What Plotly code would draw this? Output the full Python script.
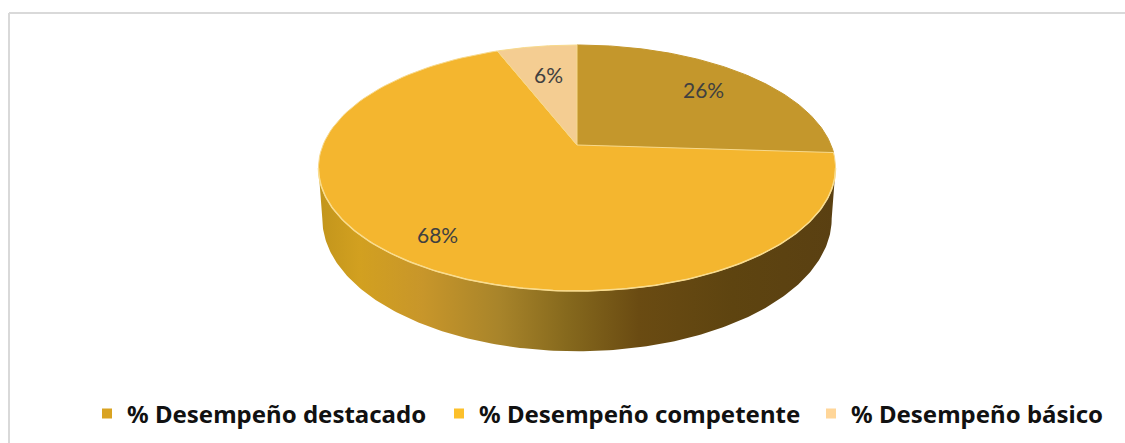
import numpy as np
import plotly.graph_objects as go

# chart values
categories = ['% Desempeño destacado', '% Desempeño competente', '% Desempeño básico']
values = [26, 68, 6]
slice_colors = ['#c4972c', '#f4b62f', '#f4cd92']
legend_colors = ['#d9a322', '#fcc02b', '#ffd699']
label_radius = [0.75, 0.82, 0.68]

# tilted disc, drawn in pixel space of the 1125x443 window
cx, cy = 577, 145
radius = 254
persp = 0.187
tilt = 118.7
depth = 49


def project(angle, r=1.0, drop=0.0, shrink=1.0):
    # angle in radians, clockwise from the back of the disc
    u = r * np.sin(angle)
    v = r * np.cos(angle)
    w = 1 + persp * v
    x = cx + shrink * radius * u / w
    y = cy - tilt * v / w + drop / w
    return x, y


fig = go.Figure()

# side wall with the left to right shading
edge = np.arccos(-persp)
front = np.linspace(edge, 2 * np.pi - edge, 200)
top_x, top_y = project(front)
low_x, low_y = project(front, drop=depth, shrink=0.985)
fig.add_trace(go.Scatter(
    x=np.concatenate([top_x, low_x[::-1]]),
    y=np.concatenate([top_y, low_y[::-1]]),
    mode='lines',
    fill='toself',
    line=dict(width=0),
    fillgradient=dict(
        type='horizontal',
        colorscale=[
            [0.0, '#c2951c'],
            [0.08, '#d2a020'],
            [0.2, '#c8962a'],
            [0.35, '#a8842a'],
            [0.48, '#86691d'],
            [0.62, '#6a4b12'],
            [0.8, '#5e4410'],
            [1.0, '#5a4012'],
        ],
    ),
    hoverinfo='skip',
    showlegend=False,
))

# top face slices
total = sum(values)
start = 0
for i, val in enumerate(values):
    end = start + val / total * 2 * np.pi
    arc = np.linspace(start, end, 120)
    arc_x, arc_y = project(arc)
    fig.add_trace(go.Scatter(
        x=np.concatenate([[cx], arc_x, [cx]]),
        y=np.concatenate([[cy], arc_y, [cy]]),
        mode='lines',
        fill='toself',
        fillcolor=slice_colors[i],
        line=dict(width=1, color='#f7d98c' if i > 0 else slice_colors[i]),
        hoverinfo='skip',
        showlegend=False,
    ))
    mid = (start + end) / 2
    lab_x, lab_y = project(mid, r=label_radius[i])
    fig.add_annotation(
        x=lab_x, y=lab_y, text=f'{val}%', showarrow=False,
        font=dict(family='Lato', size=21, color='#404040'),
    )
    start = end

# thin light rim on the front edge of the top face
fig.add_trace(go.Scatter(
    x=top_x, y=top_y, mode='lines',
    line=dict(width=1.5, color='#f9dc8e'),
    hoverinfo='skip',
    showlegend=False,
))

# legend entries, one small legend each so the gaps can differ
legend_ids = ['legend', 'legend2', 'legend3']
for name, color, leg in zip(categories, legend_colors, legend_ids):
    fig.add_trace(go.Scatter(
        x=[None], y=[None], mode='markers', name=name, legend=leg,
        marker=dict(symbol='square', size=10, color=color),
    ))


def legend_box(left):
    return dict(
        orientation='h',
        x=left / 1125,
        xanchor='left',
        y=1 - 414 / 443,
        yanchor='middle',
        font=dict(family='Noto Sans', size=24, color='#111111', weight='bold'),
        bgcolor='rgba(0,0,0,0)',
        itemwidth=30,
    )


# chart frame, top and left only
fig.add_shape(type='line', x0=9, x1=1125, y0=13, y1=13, line=dict(color='#d9d9d9', width=2))
fig.add_shape(type='line', x0=9, x1=9, y0=13, y1=443, line=dict(color='#d9d9d9', width=2))

fig.update_layout(
    width=1125,
    height=443,
    margin=dict(l=0, r=0, t=0, b=0),
    plot_bgcolor='white',
    paper_bgcolor='white',
    xaxis=dict(range=[0, 1125], visible=False, fixedrange=True),
    yaxis=dict(range=[443, 0], visible=False, fixedrange=True),
    showlegend=True,
    legend=legend_box(87),
    legend2=legend_box(439),
    legend3=legend_box(811),
)

# drop the page margin so the figure fills the window
fig.write_html(
    "out.html",
    config=dict(displayModeBar=False),
    post_script="document.body.style.margin='0';",
)
